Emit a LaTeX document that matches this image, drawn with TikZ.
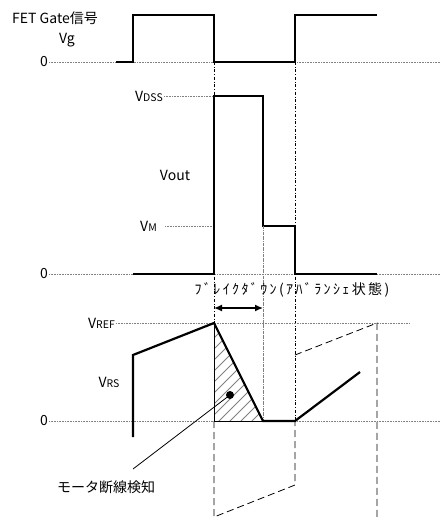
\documentclass[tikz,border=0pt]{standalone}
\usepackage{fontspec}
\usetikzlibrary{arrows.meta}
\setmainfont{Noto Sans CJK JP}
\newfontfamily\hwfont[LetterSpace=17]{Noto Sans CJK JP}
\newcommand{\sbs}[1]{{\fontsize{10.5}{10.5}\selectfont #1}}
\begin{document}
\begin{tikzpicture}[x=1pt,y=-1pt,
    sig/.style={line width=2.2pt, line join=miter},
    lvl/.style={gray, densely dotted, line width=0.6pt},
    guide/.style={dash dot, line width=0.5pt},
    aux/.style={line width=0.8pt, dash pattern=on 7pt off 4pt},
    lbl/.style={font=\fontsize{14}{14}\selectfont, inner sep=1pt}]
  \useasboundingbox (0,0) rectangle (441,520);

  % gate signal
  \coordinate (GE) at (441, 62);
  \node [lbl, anchor=west] (gatename) at (11, 18) {FET Gate信号};
  \node [lbl] (vg) at (67, 40) {Vg};
  \node [lbl, anchor=east] (zero1) at (49, 62) {0};
  \draw [lvl] (zero1.east) -- (GE);
  \draw [sig] (116, 62) -- (133, 62) -- (133, 15) -- (214, 15) -- (214, 62)
    -- (295, 62) -- (295, 15) -- (377, 15);

  % output voltage
  \node [lbl, anchor=east] (vdss) at (164, 96) {V\sbs{DSS}};
  \node [lbl, anchor=east] (vm) at (158, 226) {V\sbs{M}};
  \node [lbl] (vout) at (175, 175) {Vout};
  \node [lbl, anchor=east] (zero2) at (49, 274) {0};
  \draw [lvl] (vdss.east) -- (214, 96);
  \draw [lvl] (165, 226) -- (214, 226);
  \draw [lvl] (zero2.east) -- (441, 274);
  \draw [sig] (133, 274) -- (214, 274) -- (214, 96) -- (263, 96) -- (263, 226)
    -- (295, 226) -- (295, 274) -- (377, 274);

  % guide lines
  \draw [guide] (214, 62) -- (214, 421);
  \draw [guide] (295, 62) -- (295, 421);
  \draw [guide, densely dash dot, gray] (263, 226) -- (263, 421);

  % breakdown
  \node [lbl, font=\hwfont\fontsize{14}{14}\selectfont] (brk) at (292, 290) {ﾌﾞﾚｲｸﾀﾞｳﾝ(ｱﾊﾞﾗﾝｼｪ状態)};
  \coordinate (BL) at (214, 308);
  \coordinate (BR) at (263, 308);
  \draw [<->, >={Latex[length=8pt, width=7pt]}, line width=1.4pt] (BL) -- (BR);

  % sense voltage
  \node [lbl, anchor=east] (vref) at (116, 323) {V\sbs{REF}};
  \node [lbl] (vrs) at (109, 382) {V\sbs{RS}};
  \node [lbl, anchor=east] (zero3) at (49, 421) {0};
  \draw [lvl] (vref.east) -- (410, 323);
  \draw [lvl] (zero3.east) -- (441, 421);

  \begin{scope}
    \clip (214, 323) -- (263, 421) -- (214, 421) -- cycle;
    \foreach \k in {0,...,14}
      \draw [gray, line width=0.9pt] (200, 330 + 11*\k) -- (290, 240 + 11*\k);
  \end{scope}
  \draw [line width=0.6pt] (214, 323) -- (214, 421) -- (263, 421);

  \draw [sig] (133, 437) -- (133, 355) -- (214, 323) -- (263, 421) -- (295, 421)
    -- (360, 372);

  \draw [aux] (214, 421) -- (214, 517) -- (295, 485) -- (295, 421);
  \draw [aux] (295, 355) -- (377, 323) -- (377, 517);

  % disconnection detection
  \node [circle, fill=black, inner sep=0pt, minimum size=8pt] (det) at (230, 395) {};
  \node [lbl, anchor=west] (detlbl) at (56, 487) {モータ断線検知};
  \coordinate (detfoot) at (133, 469);
  \draw [line width=0.8pt] (detfoot) -- (det.center);
\end{tikzpicture}
\end{document}
